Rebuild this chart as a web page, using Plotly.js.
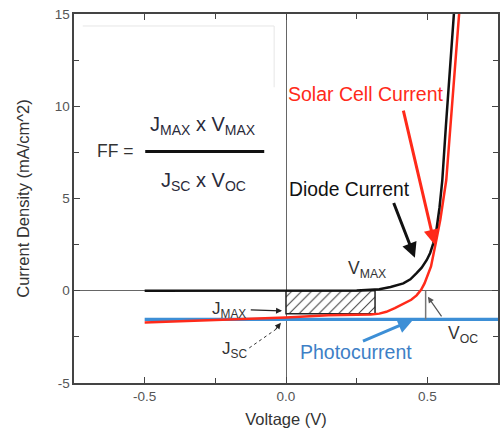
<!DOCTYPE html>
<html>
<head>
<meta charset="utf-8">
<script src="https://cdn.plot.ly/plotly-3.0.1.min.js"></script>
<style>html,body{margin:0;padding:0;background:#fff;}#chart{width:501px;height:435px;}</style>
</head>
<body>
<div id="chart"></div>
<script>
// Diode current (black)
const diodeV = [-0.5, 0.0, 0.25, 0.33, 0.37, 0.415, 0.44, 0.462, 0.48, 0.498, 0.51, 0.521, 0.532, 0.543, 0.553, 0.566, 0.58, 0.593, 0.6];
const diodeJ = [0, 0, 0.02, 0.08, 0.2, 0.4, 0.62, 0.95, 1.25, 1.67, 2.05, 2.57, 3.3, 4.5, 6.0, 9.0, 12.0, 15.0, 16.3];
// Solar cell current (red)
const cellV = [-0.5, -0.25, 0.0, 0.15, 0.3, 0.33, 0.355, 0.385, 0.415, 0.443, 0.462, 0.478, 0.49, 0.50, 0.513, 0.53, 0.546, 0.567, 0.586, 0.6, 0.613, 0.62];
const cellJ = [-1.72, -1.6, -1.45, -1.33, -1.29, -1.24, -1.14, -0.94, -0.72, -0.49, -0.25, 0.05, 0.4, 0.8, 1.32, 2.6, 3.86, 6.0, 9.84, 12.5, 15.0, 16.5];
// Photocurrent (blue)
const photoV = [-0.5, 0.75];
const photoJ = [-1.55, -1.55];
// Maximum power rectangle and Voc
const vMax = 0.315;
const jMax = -1.25;
const vOc = 0.494;
const jSc = -1.55;
// Ticks
const xTickVals = [-0.5, 0.0, 0.5];
const xTickText = ['-0.5', '0.0', '0.5'];
const yTickVals = [-5, 0, 5, 10, 15];
const yTickText = ['-5', '0', '5', '10', '15'];

const FONT = 'Liberation Sans, Arial, Helvetica, sans-serif';
const TXT = '#333';

const traces = [
  {x: [0, vMax, vMax, 0, 0], y: [0, 0, jMax, jMax, 0], mode: 'lines', fill: 'toself',
   fillcolor: 'rgba(0,0,0,0)',
   fillpattern: {shape: '/', fgcolor: '#444', bgcolor: 'white', size: 7, solidity: 0.15},
   line: {color: '#222', width: 1.5}, hoverinfo: 'skip'},
  {x: photoV, y: photoJ, mode: 'lines', line: {color: '#3d8fd6', width: 3.2}},
  {x: cellV, y: cellJ, mode: 'lines', line: {color: '#ff2a1a', width: 2.5}},
  {x: diodeV, y: diodeJ, mode: 'lines', line: {color: '#111', width: 2.5}}
];

function arrow(x, y, ax, ay, color, width, extra) {
  return Object.assign({x: x, y: y, ax: ax, ay: ay, xref: 'x', yref: 'y', axref: 'x', ayref: 'y',
    text: '', showarrow: true, arrowhead: 2, arrowsize: 1, arrowwidth: width, arrowcolor: color}, extra || {});
}
function label(x, y, text, size, color) {
  return {x: x, y: y, xref: 'x', yref: 'y', text: text, showarrow: false,
    xanchor: 'center', yanchor: 'middle', font: {family: FONT, size: size, color: color}};
}

const annotations = [
  label(-0.604, 7.55, 'FF =', 17.5, TXT),
  label(-0.295, 8.97, 'J<sub>MAX</sub> x V<sub>MAX</sub>', 20, '#2a2a3a'),
  label(-0.291, 5.92, 'J<sub>SC</sub> x V<sub>OC</sub>', 20, '#2a2a3a'),
  label(0.284, 10.65, 'Solar Cell Current', 19.5, '#ff2a1a'),
  label(0.225, 5.49, 'Diode Current', 19.3, '#111'),
  label(0.246, -3.32, 'Photocurrent', 19.5, '#3d7fc6'),
  label(0.288, 1.14, 'V<sub>MAX</sub>', 17.5, TXT),
  label(-0.2, -1.03, 'J<sub>MAX</sub>', 17, TXT),
  label(-0.182, -3.2, 'J<sub>SC</sub>', 17, TXT),
  label(0.625, -2.39, 'V<sub>OC</sub>', 17.5, TXT),
  arrow(0.526, 2.5, 0.414, 9.84, '#ff2a1a', 3),
  arrow(0.456, 1.79, 0.379, 4.84, '#111', 3),
  arrow(-0.014, -1.09, -0.13, -1.03, '#222', 1.2),
  arrow(-0.018, -1.74, -0.04, -2.15, '#222', 1.2),
  arrow(0.502, -0.33, 0.554, -1.47, '#555', 1.2),
  arrow(0.449, -1.58, 0.267, -2.77, '#3d8fd6', 3)
];

const shapes = [
  {type: 'line', xref: 'x', yref: 'y', x0: -0.498, x1: -0.077, y0: 7.55, y1: 7.55, line: {color: '#111', width: 3}},
  {type: 'line', xref: 'x', yref: 'y', x0: vOc, x1: vOc, y0: 0, y1: jSc, line: {color: '#777', width: 1.5}},
  {type: 'line', xref: 'x', yref: 'y', x0: -0.13, x1: -0.03, y0: -3.1, y1: -2.03, line: {color: '#333', width: 1, dash: 'dot'}},
  {type: 'line', xref: 'x', yref: 'y', x0: -0.719, x1: -0.042, y0: 14.35, y1: 14.35, line: {color: '#e6e6e6', width: 1}},
  {type: 'line', xref: 'x', yref: 'y', x0: -0.042, x1: -0.042, y0: 14.35, y1: 11.03, line: {color: '#e6e6e6', width: 1}}
];

const axisCommon = {
  showgrid: false, ticks: 'inside', ticklen: 6, tickwidth: 1, tickcolor: '#444',
  showline: true, linecolor: '#444', linewidth: 1.6, mirror: 'ticks',
  zeroline: true, zerolinecolor: '#666', zerolinewidth: 1,
  tickfont: {family: FONT, size: 13.5, color: '#555'},
  fixedrange: true
};

const layout = {
  width: 501, height: 435,
  margin: {l: 74, r: 3, t: 14, b: 52},
  paper_bgcolor: '#fff', plot_bgcolor: '#fff',
  showlegend: false,
  xaxis: Object.assign({}, axisCommon, {
    range: [-0.75, 0.75], tickvals: xTickVals, ticktext: xTickText,
    minor: {dtick: 0.25, tick0: 0, ticks: 'inside', ticklen: 5, tickcolor: '#444', showgrid: false},
    title: {text: 'Voltage (V)', font: {family: FONT, size: 16.5, color: TXT}, standoff: 10}
  }),
  yaxis: Object.assign({}, axisCommon, {
    range: [-5, 15], tickvals: yTickVals, ticktext: yTickText,
    minor: {dtick: 2.5, tick0: 0, ticks: 'inside', ticklen: 5, tickcolor: '#444', showgrid: false},
    title: {text: 'Current Density (mA/cm^2)', font: {family: FONT, size: 16.5, color: TXT}, standoff: 21}
  }),
  annotations: annotations,
  shapes: shapes
};

Plotly.newPlot('chart', traces, layout, {staticPlot: true, displayModeBar: false});
</script>
</body>
</html>
